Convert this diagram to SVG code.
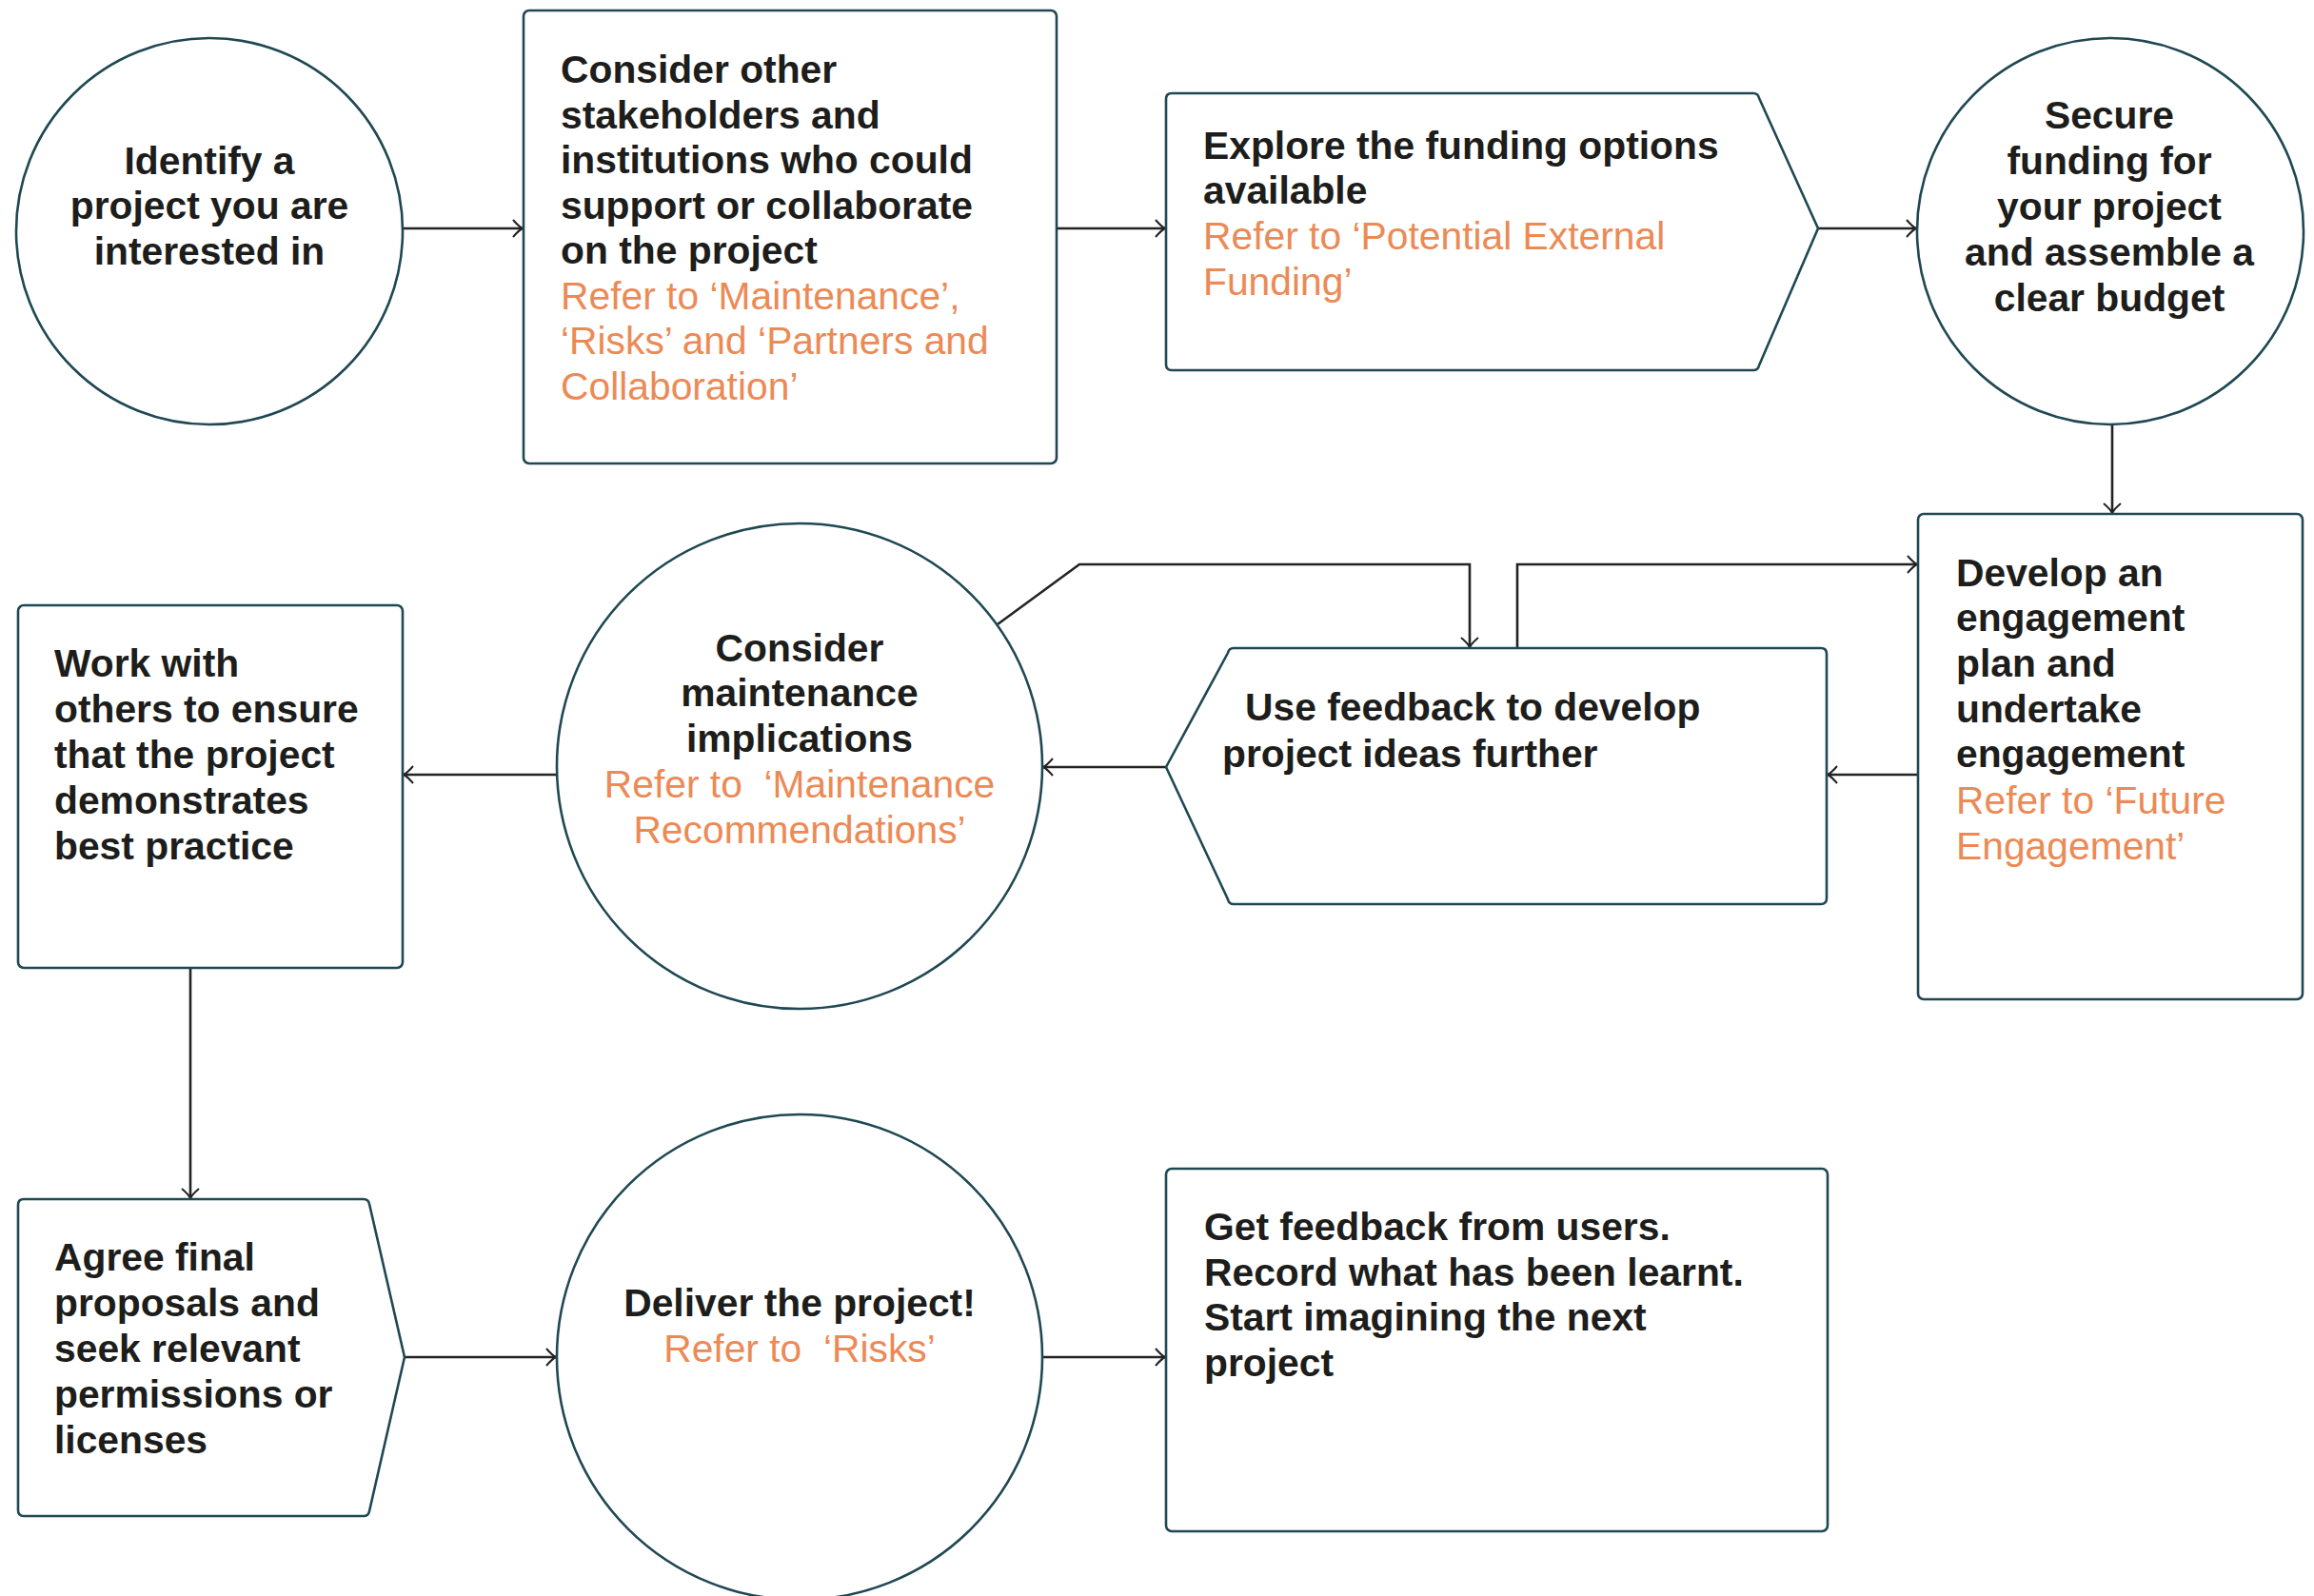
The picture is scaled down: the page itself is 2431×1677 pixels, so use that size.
<svg xmlns="http://www.w3.org/2000/svg" width="2431" height="1677" viewBox="0 0 2431 1677">
  <style>
    .shape { fill: #ffffff; stroke: #1f4852; stroke-width: 2.6; stroke-linejoin: round; }
    .link { fill: none; stroke: #232323; stroke-width: 2.6; marker-end: url(#chev); }
    .t { font-family: "Liberation Sans", Arial, sans-serif; font-size: 40.8px; }
    .b { font-weight: 700; fill: #1d1d1b; }
    .o { font-weight: 400; fill: #ec8a56; }
    .c { text-anchor: middle; }
  </style>
  <defs>
    <marker id="chev" viewBox="-12 -12 24 24" markerWidth="24" markerHeight="24" refX="0" refY="0" orient="auto" markerUnits="userSpaceOnUse">
      <path d="M-10,-9 Q-4,-2 0,0 Q-4,2 -10,9" fill="none" stroke="#232323" stroke-width="2"/>
    </marker>
  </defs>

  <!-- connectors -->
  <g id="connectors">
    <path class="link" d="M423,240 H549"/>
    <path class="link" d="M1110,240 H1224"/>
    <path class="link" d="M1910,240 H2013"/>
    <path class="link" d="M2219,446 V539"/>
    <path class="link" d="M2015,814 H1920"/>
    <path class="link" d="M1225,806 H1096"/>
    <path class="link" d="M585,814 H424"/>
    <path class="link" d="M200,1017 V1259"/>
    <path class="link" d="M425,1426 H584"/>
    <path class="link" d="M1095,1426 H1224"/>
    <path class="link" d="M1048,656 L1134,593 H1544 V680"/>
    <path class="link" d="M1594,681 V593 H2014"/>
  </g>

  <!-- step: identify -->
  <g id="identify">
    <circle class="shape" cx="220" cy="243" r="203"/>
    <text class="t b c" x="220" y="183">Identify a</text>
    <text class="t b c" x="220" y="230">project you are</text>
    <text class="t b c" x="220" y="278">interested in</text>
  </g>

  <!-- step: stakeholders -->
  <g id="stakeholders">
    <rect class="shape" x="550" y="11" width="560" height="476" rx="6"/>
    <text class="t b" x="589" y="87">Consider other</text>
    <text class="t b" x="589" y="135">stakeholders and</text>
    <text class="t b" x="589" y="182">institutions who could</text>
    <text class="t b" x="589" y="230">support or collaborate</text>
    <text class="t b" x="589" y="277">on the project</text>
    <text class="t o" x="589" y="325">Refer to ‘Maintenance’,</text>
    <text class="t o" x="589" y="372">‘Risks’ and ‘Partners and</text>
    <text class="t o" x="589" y="420">Collaboration’</text>
  </g>

  <!-- step: funding options -->
  <g id="funding-options">
    <path class="shape" d="M1231,98 H1842 Q1847,98 1848,103 L1910,240 L1848,384 Q1847,389 1842,389 H1231 Q1225,389 1225,383 V104 Q1225,98 1231,98 Z"/>
    <text class="t b" x="1264" y="167">Explore the funding options</text>
    <text class="t b" x="1264" y="214">available</text>
    <text class="t o" x="1264" y="262">Refer to ‘Potential External</text>
    <text class="t o" x="1264" y="310">Funding’</text>
  </g>

  <!-- step: secure funding -->
  <g id="secure-funding">
    <circle class="shape" cx="2217" cy="243" r="203"/>
    <text class="t b c" x="2216" y="135">Secure</text>
    <text class="t b c" x="2216" y="183">funding for</text>
    <text class="t b c" x="2216" y="231">your project</text>
    <text class="t b c" x="2216" y="279">and assemble a</text>
    <text class="t b c" x="2216" y="327">clear budget</text>
  </g>

  <!-- step: engagement plan -->
  <g id="engagement-plan">
    <rect class="shape" x="2015" y="540" width="404" height="510" rx="6"/>
    <text class="t b" x="2055" y="616">Develop an</text>
    <text class="t b" x="2055" y="663">engagement</text>
    <text class="t b" x="2055" y="711">plan and</text>
    <text class="t b" x="2055" y="759">undertake</text>
    <text class="t b" x="2055" y="806">engagement</text>
    <text class="t o" x="2055" y="855">Refer to ‘Future</text>
    <text class="t o" x="2055" y="903">Engagement’</text>
  </g>

  <!-- step: use feedback -->
  <g id="use-feedback">
    <path class="shape" d="M1296,681 H1913 Q1919,681 1919,687 V944 Q1919,950 1913,950 H1296 Q1291,950 1290,945 L1225,806 L1290,686 Q1291,681 1296,681 Z"/>
    <text class="t b" x="1308" y="757">Use feedback to develop</text>
    <text class="t b" x="1284" y="806">project ideas further</text>
  </g>

  <!-- step: maintenance -->
  <g id="maintenance">
    <circle class="shape" cx="840" cy="805" r="255"/>
    <text class="t b c" x="840" y="695">Consider</text>
    <text class="t b c" x="840" y="742">maintenance</text>
    <text class="t b c" x="840" y="790">implications</text>
    <text class="t o c" x="840" y="838">Refer to&#160; ‘Maintenance</text>
    <text class="t o c" x="840" y="886">Recommendations’</text>
  </g>

  <!-- step: best practice -->
  <g id="best-practice">
    <rect class="shape" x="19" y="636" width="404" height="381" rx="6"/>
    <text class="t b" x="57" y="711">Work with</text>
    <text class="t b" x="57" y="759">others to ensure</text>
    <text class="t b" x="57" y="807">that the project</text>
    <text class="t b" x="57" y="855">demonstrates</text>
    <text class="t b" x="57" y="903">best practice</text>
  </g>

  <!-- step: permissions -->
  <g id="permissions">
    <path class="shape" d="M25,1260 H382 Q387,1260 388,1265 L425,1426 L388,1588 Q387,1593 382,1593 H25 Q19,1593 19,1587 V1266 Q19,1260 25,1260 Z"/>
    <text class="t b" x="57" y="1335">Agree final</text>
    <text class="t b" x="57" y="1383">proposals and</text>
    <text class="t b" x="57" y="1431">seek relevant</text>
    <text class="t b" x="57" y="1479">permissions or</text>
    <text class="t b" x="57" y="1527">licenses</text>
  </g>

  <!-- step: deliver -->
  <g id="deliver">
    <circle class="shape" cx="840" cy="1426" r="255"/>
    <text class="t b c" x="840" y="1383">Deliver the project!</text>
    <text class="t o c" x="840" y="1431">Refer to&#160; ‘Risks’</text>
  </g>

  <!-- step: review -->
  <g id="review">
    <rect class="shape" x="1225" y="1228" width="695" height="381" rx="6"/>
    <text class="t b" x="1265" y="1303">Get feedback from users.</text>
    <text class="t b" x="1265" y="1351">Record what has been learnt.</text>
    <text class="t b" x="1265" y="1398">Start imagining the next</text>
    <text class="t b" x="1265" y="1446">project</text>
  </g>
</svg>
